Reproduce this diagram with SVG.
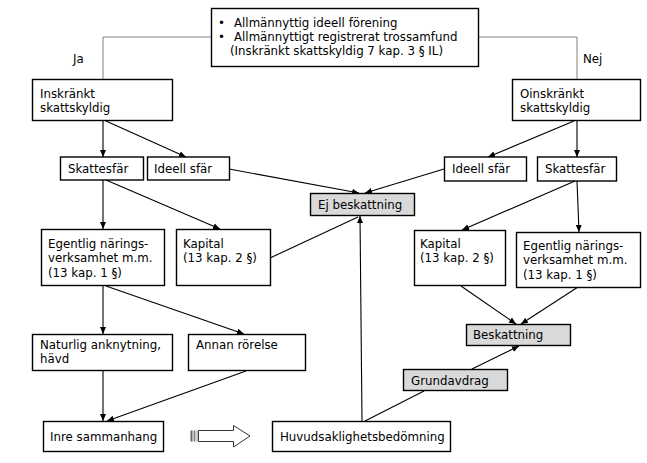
<svg xmlns="http://www.w3.org/2000/svg" width="647" height="463" viewBox="0 0 647 463">
<defs>
<style>
.box{fill:#fff;stroke:#000;stroke-width:1.4}
.gbox{fill:#d9d9d9;stroke:#000;stroke-width:1.4}
text{font-family:"DejaVu Sans",Verdana,sans-serif;font-size:11.8px;fill:#000}
.c{stroke:#000;stroke-width:1.1;fill:none}
.g{stroke:#808080;stroke-width:1;fill:none}
</style>
<marker id="ah" markerWidth="8" markerHeight="8" refX="7" refY="4" orient="auto" markerUnits="userSpaceOnUse">
<path d="M0,1 L7,4 L0,7 Z" fill="#000"/>
</marker>
</defs>
<rect width="647" height="463" fill="#fff"/>
<g id="connectors">
<polyline class="g" points="211,37 103,37 103,79"/>
<polyline class="g" points="478,37 577,37 577,79"/>
<line class="c" x1="103" y1="121" x2="103" y2="157" marker-end="url(#ah)"/>
<line class="c" x1="106" y1="121" x2="186" y2="157" marker-end="url(#ah)"/>
<line class="c" x1="577" y1="121" x2="577" y2="157" marker-end="url(#ah)"/>
<line class="c" x1="574" y1="121" x2="488" y2="157" marker-end="url(#ah)"/>
<line class="c" x1="229" y1="169" x2="359" y2="193" marker-end="url(#ah)"/>
<line class="c" x1="444" y1="169" x2="365" y2="193" marker-end="url(#ah)"/>
<line class="c" x1="103" y1="180" x2="103" y2="229" marker-end="url(#ah)"/>
<line class="c" x1="106" y1="180" x2="220" y2="229" marker-end="url(#ah)"/>
<line class="c" x1="577" y1="181" x2="579" y2="232" marker-end="url(#ah)"/>
<line class="c" x1="575" y1="181" x2="462" y2="230" marker-end="url(#ah)"/>
<line class="c" x1="270" y1="258" x2="358" y2="217"/>
<line class="c" x1="362" y1="421" x2="360" y2="216" marker-end="url(#ah)"/>
<line class="c" x1="461" y1="286" x2="516" y2="324" marker-end="url(#ah)"/>
<line class="c" x1="578" y1="287" x2="521" y2="324" marker-end="url(#ah)"/>
<line class="c" x1="472" y1="369" x2="519" y2="346" marker-end="url(#ah)"/>
<line class="c" x1="365" y1="421" x2="424" y2="391"/>
<line class="c" x1="103" y1="286" x2="103" y2="334" marker-end="url(#ah)"/>
<line class="c" x1="106" y1="286" x2="244" y2="334" marker-end="url(#ah)"/>
<line class="c" x1="103" y1="371" x2="103" y2="421" marker-end="url(#ah)"/>
<line class="c" x1="246" y1="371" x2="107" y2="421" marker-end="url(#ah)"/>
</g>
<g id="top">
<rect class="box" x="211.5" y="8.5" width="267" height="58"/>
<text x="218" y="27">•</text><text x="234" y="27">Allmännyttig ideell förening</text>
<text x="218" y="41">•</text><text x="234" y="41">Allmännyttigt registrerat trossamfund</text>
<text x="230" y="55">(Inskränkt skattskyldig 7 kap. 3 § IL)</text>
</g>
<g id="ja"><text x="73" y="63">Ja</text></g>
<g id="nej"><text x="583" y="63">Nej</text></g>
<g id="inskrankt">
<rect class="box" x="32.5" y="79.5" width="140" height="41"/>
<text x="40" y="98">Inskränkt</text><text x="40" y="112">skattskyldig</text>
</g>
<g id="oinskrankt">
<rect class="box" x="512.5" y="79.5" width="128" height="41"/>
<text x="520" y="98">Oinskränkt</text><text x="520" y="112">skattskyldig</text>
</g>
<g id="skattesfar-l">
<rect class="box" x="60.5" y="157" width="83" height="23"/>
<text x="68" y="173">Skattesfär</text>
</g>
<g id="ideell-l">
<rect class="box" x="147.5" y="157" width="82" height="23"/>
<text x="154" y="173">Ideell sfär</text>
</g>
<g id="ideell-r">
<rect class="box" x="444.5" y="157" width="82" height="24"/>
<text x="452" y="173">Ideell sfär</text>
</g>
<g id="skattesfar-r">
<rect class="box" x="537.5" y="157" width="79" height="24"/>
<text x="545" y="173">Skattesfär</text>
</g>
<g id="ej-beskattning">
<rect class="gbox" x="310.5" y="193.5" width="104" height="22"/>
<text x="318" y="209">Ej beskattning</text>
</g>
<g id="egentlig-l">
<rect class="box" x="41.5" y="229.5" width="123" height="56"/>
<text x="48" y="248">Egentlig närings-</text><text x="48" y="262">verksamhet m.m.</text><text x="48" y="277">(13 kap. 1 §)</text>
</g>
<g id="kapital-l">
<rect class="box" x="176.5" y="229.5" width="94" height="56"/>
<text x="183" y="248">Kapital</text><text x="183" y="262">(13 kap. 2 §)</text>
</g>
<g id="kapital-r">
<rect class="box" x="414.5" y="230.5" width="91" height="55"/>
<text x="420" y="248">Kapital</text><text x="420" y="262">(13 kap. 2 §)</text>
</g>
<g id="egentlig-r">
<rect class="box" x="516.5" y="232.5" width="124" height="55"/>
<text x="523" y="250">Egentlig närings-</text><text x="523" y="264">verksamhet m.m.</text><text x="523" y="279">(13 kap. 1 §)</text>
</g>
<g id="beskattning">
<rect class="gbox" x="466.5" y="324.5" width="104" height="21"/>
<text x="473" y="339">Beskattning</text>
</g>
<g id="grundavdrag">
<rect class="gbox" x="403.5" y="369.5" width="104" height="21"/>
<text x="411" y="385">Grundavdrag</text>
</g>
<g id="naturlig">
<rect class="box" x="32.5" y="334.5" width="140" height="36"/>
<text x="40" y="349">Naturlig anknytning,</text><text x="40" y="363">hävd</text>
</g>
<g id="annan">
<rect class="box" x="188.5" y="334.5" width="117" height="36"/>
<text x="196" y="349">Annan rörelse</text>
</g>
<g id="inre">
<rect class="box" x="43.5" y="421.5" width="120" height="30"/>
<text x="50" y="441">Inre sammanhang</text>
</g>
<g id="huvudsaklighet">
<rect class="box" x="272.5" y="421.5" width="178" height="30"/>
<text x="280" y="441">Huvudsaklighetsbedömning</text>
</g>
<g id="block-arrow">
<rect x="190.5" y="430.5" width="2" height="11" fill="#666"/>
<rect x="193.5" y="430.5" width="2" height="11" fill="#888"/>
<rect x="196.5" y="430.5" width="1.2" height="11" fill="#aaa"/>
<path d="M198.5,430.5 H233.5 V425.5 L250,436 L233.5,447 V441.5 H198.5 Z" fill="#fff" stroke="#333" stroke-width="1"/>
</g>
</svg>
